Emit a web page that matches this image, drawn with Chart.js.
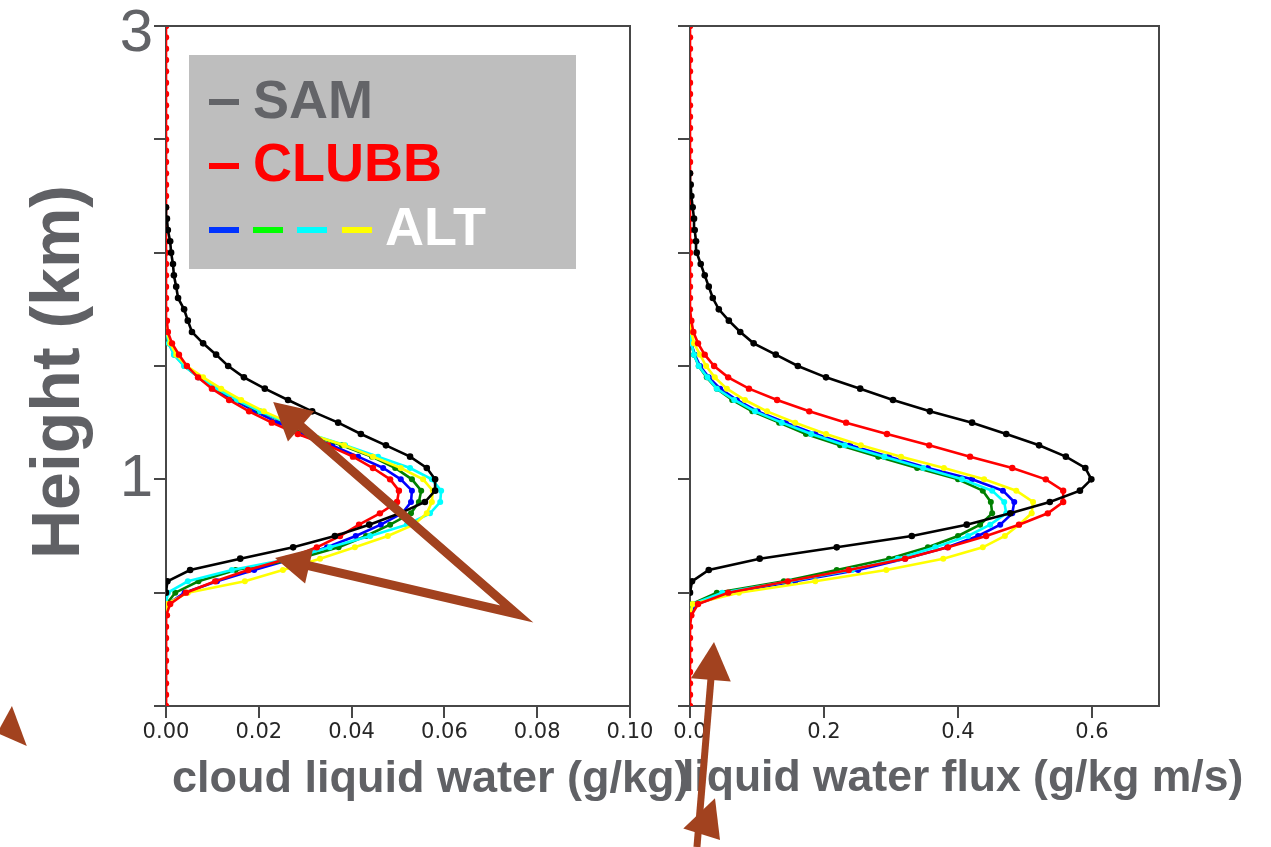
<!DOCTYPE html>
<html>
<head>
<meta charset="utf-8">
<title>Cloud liquid water and liquid water flux profiles</title>
<script src="https://cdn.jsdelivr.net/npm/chart.js@4.4.1/dist/chart.umd.min.js"></script>
<style>
  html, body { margin: 0; padding: 0; background: #ffffff; }
  #stage { position: relative; width: 1271px; height: 847px; overflow: hidden; background: #ffffff; }
  #stage canvas { position: absolute; left: 0; top: 0; width: 1271px; height: 847px; }
  .lbl { position: absolute; white-space: nowrap; font-family: "Liberation Sans", Arial, sans-serif; font-weight: bold; color: #606165; }
  #fluxTitle { left: 682px; top: 754px; font-size: 44.5px; line-height: 44.5px; }
  #cloudTitle { left: 172px; top: 754px; font-size: 45px; line-height: 45px; }
  #heightTitle { left: 55px; top: 372px; font-size: 68px; line-height: 68px; transform: translate(-50%, -50%) rotate(-90deg); }
  #legend { position: absolute; left: 189px; top: 55px; width: 387px; height: 214px; background: #bebebe; }
  #legend .dash { position: absolute; height: 6px; width: 30px; }
  #legend .name { position: absolute; white-space: nowrap; font-family: "Liberation Sans", Arial, sans-serif; font-weight: bold; font-size: 54px; line-height: 54px; }
  #callouts { z-index: 5; }
</style>
</head>
<body>
<div id="stage">
  <canvas id="cloudChart" width="1271" height="847"></canvas>
  <canvas id="fluxChart" width="1271" height="847"></canvas>
  <div class="lbl" id="fluxTitle">liquid water flux (g/kg m/s)</div>
  <div class="lbl" id="cloudTitle">cloud liquid water (g/kg)</div>
  <div class="lbl" id="heightTitle">Height (km)</div>
  <div id="legend">
    <div class="dash" style="left:20px; top:44px; background:#636468;"></div>
    <div class="name" style="left:64px; top:17px; color:#636468;">SAM</div>
    <div class="dash" style="left:20px; top:108px; background:#ff0000;"></div>
    <div class="name" style="left:64px; top:80px; color:#ff0000;">CLUBB</div>
    <div class="dash" style="left:20px; top:172px; background:#0033ff;"></div>
    <div class="dash" style="left:64px; top:172px; background:#00ff00;"></div>
    <div class="dash" style="left:108px; top:172px; background:#00ffff;"></div>
    <div class="dash" style="left:153px; top:172px; background:#ffff00;"></div>
    <div class="name" style="left:196px; top:144px; color:#ffffff;">ALT</div>
  </div>
  <canvas id="callouts" width="1271" height="847"></canvas>
</div>
<script>
// Model levels (km)
const heights = [0.00,0.05,0.10,0.15,0.20,0.25,0.30,0.35,0.40,0.45,
                 0.50,0.55,0.60,0.65,0.70,0.75,0.80,0.85,0.90,0.95,
                 1.00,1.05,1.10,1.15,1.20,1.25,1.30,1.35,1.40,1.45,
                 1.50,1.55,1.60,1.65,1.70,1.75,1.80,1.85,1.90,1.95,
                 2.00,2.05,2.10,2.15,2.20,2.25,2.30,2.35,2.40,2.45,
                 2.50,2.55,2.60,2.65,2.70,2.75,2.80,2.85,2.90,2.95,
                 3.00];
const _ = null; // level not output by that run

// Cloud liquid water (g/kg)
const samCloud = [_,_,_,_,_,_,_,_,_,_,
  0.0000,0.0003,0.0052,0.0160,0.0274,0.0364,0.0438,0.0504,0.0558,0.0580,
  0.0580,0.0562,0.0526,0.0474,0.0420,0.0371,0.0315,0.0263,0.0213,0.0168,
  0.0134,0.0108,0.0080,0.0056,0.0047,0.0039,0.0026,0.0022,0.0017,0.0015,
  0.0011,0.0009,0.0004,0.0002,0.0000,_,_,_,_,_,
  _,_,_,_,_,_,_,_,_,_,
  _];
const clubbCloud = [0,0,0,0,0,0,0,0,0.0002,0.0009,
  0.0043,0.0106,0.0177,0.0261,0.0325,0.0375,0.0416,0.0461,0.0498,0.0502,
  0.0483,0.0446,0.0403,0.0349,0.0284,0.0228,0.0179,0.0136,0.0099,0.0069,
  0.0045,0.0028,0.0013,0.0004,0.0002,0,0,0,0,0,
  0,0,0,0,0,0,0,0,0,0,
  0,0,0,0,0,0,0,0,0,0,
  0];
const altBlueCloud = [_,_,_,_,_,_,_,_,0.0000,0.0004,
  0.0040,0.0110,0.0190,0.0274,0.0347,0.0409,0.0463,0.0509,0.0528,0.0530,
  0.0506,0.0468,0.0414,0.0358,0.0295,0.0241,0.0192,0.0147,0.0103,0.0069,
  0.0043,0.0024,0.0009,0.0002,0.0000,_,_,_,_,_,
  _,_,_,_,_,_,_,_,_,_,
  _,_,_,_,_,_,_,_,_,_,
  _];
const altGreenCloud = [_,_,_,_,_,_,_,_,0.0000,0.0001,
  0.0020,0.0070,0.0150,0.0285,0.0372,0.0431,0.0483,0.0528,0.0545,0.0550,
  0.0530,0.0494,0.0444,0.0379,0.0304,0.0257,0.0201,0.0152,0.0109,0.0071,
  0.0040,0.0018,0.0006,0.0001,0.0000,_,_,_,_,_,
  _,_,_,_,_,_,_,_,_,_,
  _,_,_,_,_,_,_,_,_,_,
  _];
const altCyanCloud = [_,_,_,_,_,_,_,_,_,0.0000,
  0.0004,0.0047,0.0142,0.0267,0.0353,0.0440,0.0519,0.0569,0.0591,0.0593,
  0.0573,0.0526,0.0457,0.0386,0.0310,0.0259,0.0203,0.0153,0.0110,0.0071,
  0.0039,0.0017,0.0006,0.0001,0.0000,_,_,_,_,_,
  _,_,_,_,_,_,_,_,_,_,
  _,_,_,_,_,_,_,_,_,_,
  _];
const altYellowCloud = [_,_,_,_,_,_,_,_,0.0000,0.0002,
  0.0047,0.0170,0.0252,0.0332,0.0407,0.0478,0.0534,0.0562,0.0573,0.0575,
  0.0554,0.0506,0.0446,0.0384,0.0308,0.0265,0.0211,0.0162,0.0119,0.0080,
  0.0045,0.0022,0.0009,0.0002,0.0000,_,_,_,_,_,
  _,_,_,_,_,_,_,_,_,_,
  _,_,_,_,_,_,_,_,_,_,
  _];

// Liquid water flux (g/kg m/s)
const samFlux = [_,_,_,_,_,_,_,_,_,_,
  0.000,0.003,0.028,0.104,0.219,0.331,0.413,0.478,0.537,0.582,
  0.599,0.590,0.561,0.521,0.472,0.421,0.358,0.303,0.254,0.203,
  0.161,0.128,0.095,0.075,0.058,0.043,0.034,0.028,0.022,0.016,
  0.010,0.009,0.007,0.006,0.004,0.002,0.001,0.000,_,_,
  _,_,_,_,_,_,_,_,_,_,
  _];
const clubbFlux = [0,0,0,0,0,0,0,0,0.002,0.012,
  0.057,0.146,0.237,0.321,0.385,0.442,0.491,0.534,0.557,0.557,
  0.531,0.481,0.418,0.357,0.294,0.233,0.178,0.130,0.088,0.057,
  0.036,0.022,0.012,0.005,0.002,0,0,0,0,0,
  0,0,0,0,0,0,0,0,0,0,
  0,0,0,0,0,0,0,0,0,0,
  0];
const altBlueFlux = [_,_,_,_,_,_,_,_,0.000,0.010,
  0.060,0.157,0.251,0.321,0.384,0.430,0.463,0.481,0.484,0.467,
  0.421,0.355,0.297,0.239,0.187,0.143,0.101,0.070,0.045,0.028,
  0.015,0.007,0.002,0.000,_,_,_,_,_,_,
  _,_,_,_,_,_,_,_,_,_,
  _,_,_,_,_,_,_,_,_,_,
  _];
const altGreenFlux = [_,_,_,_,_,_,_,_,0.000,0.003,
  0.040,0.140,0.219,0.297,0.355,0.400,0.433,0.451,0.449,0.437,
  0.400,0.339,0.281,0.224,0.173,0.133,0.093,0.063,0.040,0.025,
  0.013,0.006,0.002,0.000,_,_,_,_,_,_,
  _,_,_,_,_,_,_,_,_,_,
  _,_,_,_,_,_,_,_,_,_,
  _];
const altCyanFlux = [_,_,_,_,_,_,_,_,0.000,0.004,
  0.048,0.149,0.242,0.310,0.366,0.415,0.448,0.472,0.469,0.451,
  0.406,0.348,0.290,0.231,0.181,0.137,0.097,0.066,0.040,0.026,
  0.013,0.006,0.002,0.000,_,_,_,_,_,_,
  _,_,_,_,_,_,_,_,_,_,
  _,_,_,_,_,_,_,_,_,_,
  _];
const altYellowFlux = [_,_,_,_,_,_,_,_,0.000,0.004,
  0.073,0.187,0.293,0.378,0.437,0.470,0.491,0.510,0.512,0.487,
  0.439,0.379,0.315,0.255,0.203,0.157,0.115,0.082,0.055,0.037,
  0.024,0.015,0.006,0.002,0.000,_,_,_,_,_,
  _,_,_,_,_,_,_,_,_,_,
  _,_,_,_,_,_,_,_,_,_,
  _];

// Axis ticks and their labels
const heightTicks = [0, 0.5, 1, 1.5, 2, 2.5, 3];
const heightTickLabels = ['', '', '1', '', '', '', ['', '3']];
const cloudTicks = [0, 0.02, 0.04, 0.06, 0.08, 0.10];
const cloudTickLabels = ['0.00', '0.02', '0.04', '0.06', '0.08', '0.10'];
const fluxTicks = [0, 0.2, 0.4, 0.6];
const fluxTickLabels = ['0.0', '0.2', '0.4', '0.6'];

// Drawing styles, topmost run first
const runs = [
  { key: 'sam',    color: '#000000', radius: 3.3, width: 2.6 },
  { key: 'clubb',  color: '#ff0000', radius: 3.2, width: 2.6 },
  { key: 'yellow', color: '#ffff00', radius: 3.0, width: 2.6 },
  { key: 'cyan',   color: '#00ffff', radius: 3.0, width: 2.6 },
  { key: 'green',  color: '#008000', radius: 3.0, width: 2.6 },
  { key: 'blue',   color: '#0000ff', radius: 3.0, width: 2.6 }
];
const cloudRuns = { sam: samCloud, clubb: clubbCloud, yellow: altYellowCloud, cyan: altCyanCloud, green: altGreenCloud, blue: altBlueCloud };
const fluxRuns  = { sam: samFlux,  clubb: clubbFlux,  yellow: altYellowFlux,  cyan: altCyanFlux,  green: altGreenFlux,  blue: altBlueFlux };

function profile(values) {
  const pts = [];
  values.forEach((v, i) => { if (v !== null) pts.push({ x: v, y: heights[i] }); });
  return pts;
}

function datasetsFor(table) {
  return runs.map(r => ({
    label: r.key,
    data: profile(table[r.key]),
    borderColor: r.color,
    backgroundColor: r.color,
    pointBackgroundColor: r.color,
    pointBorderWidth: 0,
    pointRadius: r.radius,
    borderWidth: r.width,
    tension: 0,
    fill: false
  }));
}

const AXIS = '#474747';

// Top and right edges of the plotting frame
const framePlugin = {
  id: 'frame',
  afterDraw(chart) {
    const { ctx, chartArea: a } = chart;
    ctx.save();
    ctx.strokeStyle = AXIS;
    ctx.lineWidth = 2;
    ctx.beginPath();
    ctx.moveTo(a.left - 1, a.top);
    ctx.lineTo(a.right, a.top);
    ctx.lineTo(a.right, a.bottom + 1);
    ctx.stroke();
    ctx.restore();
  }
};

function panelOptions(cfg) {
  return {
    responsive: false,
    maintainAspectRatio: false,
    devicePixelRatio: 1,
    animation: false,
    events: [],
    layout: { padding: { left: cfg.padLeft, right: cfg.padRight, top: 26, bottom: 0 } },
    plugins: { legend: { display: false }, tooltip: { enabled: false }, title: { display: false } },
    scales: {
      x: {
        type: 'linear',
        position: 'bottom',
        min: cfg.xMin,
        max: cfg.xMax,
        z: 1,
        afterBuildTicks(scale) { scale.ticks = cfg.xTicks.map(v => ({ value: v })); },
        afterFit(scale) { scale.height = 141; },
        grid: { drawOnChartArea: false, drawTicks: true, tickLength: 12, tickColor: AXIS, tickWidth: 2, lineWidth: 2, color: AXIS },
        border: { display: true, color: AXIS, width: 2 },
        ticks: {
          autoSkip: false, maxRotation: 0, minRotation: 0, padding: 2,
          color: '#262626',
          font: { family: '"DejaVu Sans", sans-serif', size: 21 },
          callback: (v, i) => cfg.xLabels[i]
        }
      },
      y: {
        type: 'linear',
        position: 'left',
        min: 0,
        max: 3,
        z: 1,
        afterBuildTicks(scale) { scale.ticks = heightTicks.map(v => ({ value: v })); },
        afterFit(scale) { scale.width = cfg.yWidth; },
        grid: { drawOnChartArea: false, drawTicks: true, tickLength: 12, tickColor: AXIS, tickWidth: 2, lineWidth: 2, color: AXIS },
        border: { display: true, color: AXIS, width: 2 },
        ticks: {
          autoSkip: false, padding: 1,
          color: '#626367',
          font: { family: '"Liberation Sans", Arial, sans-serif', size: 60, lineHeight: '16px' },
          callback: (v, i) => (cfg.yLabels ? cfg.yLabels[i] : '')
        }
      }
    }
  };
}

const cloudChart = new Chart(document.getElementById('cloudChart'), {
  type: 'line',
  data: { datasets: datasetsFor(cloudRuns) },
  options: panelOptions({ padLeft: 0, padRight: 641, yWidth: 166, xMin: 0, xMax: 0.10,
                          xTicks: cloudTicks, xLabels: cloudTickLabels, yLabels: heightTickLabels }),
  plugins: [framePlugin]
});

const fluxChart = new Chart(document.getElementById('fluxChart'), {
  type: 'line',
  data: { datasets: datasetsFor(fluxRuns) },
  options: panelOptions({ padLeft: 640, padRight: 112, yWidth: 50, xMin: 0, xMax: 0.7,
                          xTicks: fluxTicks, xLabels: fluxTickLabels, yLabels: null }),
  plugins: [framePlugin]
});

// Call-out arrows, placed in each panel's data units
const cloudArrowTail = [0.0756, 0.406];
const cloudArrowTips = [[0.0231, 1.341], [0.0235, 0.653]];
const cloudStrayHead = [[-0.0332, 0.000], [-0.0300, -0.176], [-0.0364, -0.119]];
const fluxArrowTail = [0.0104, -0.622];
const fluxArrowTip = [0.0358, 0.282];
const fluxStrayHead = [[0.0373, -0.407], [-0.0100, -0.540], [0.0448, -0.591]];

(function drawCallouts() {
  const ctx = document.getElementById('callouts').getContext('2d');
  const BROWN = '#a2421f';
  const at = (chart, p) => [chart.scales.x.getPixelForValue(p[0]), chart.scales.y.getPixelForValue(p[1])];

  function headBase(tip, tail, len) {
    const dx = tip[0] - tail[0], dy = tip[1] - tail[1];
    const d = Math.hypot(dx, dy);
    const ux = dx / d, uy = dy / d;
    return { base: [tip[0] - ux * len, tip[1] - uy * len], ux, uy };
  }
  function head(tip, tail, len, half) {
    const h = headBase(tip, tail, len);
    const nx = -h.uy, ny = h.ux;
    ctx.beginPath();
    ctx.moveTo(tip[0], tip[1]);
    ctx.lineTo(h.base[0] + nx * half, h.base[1] + ny * half);
    ctx.lineTo(h.base[0] - nx * half, h.base[1] - ny * half);
    ctx.closePath();
    ctx.fill();
  }
  function polygon(pts) {
    ctx.beginPath();
    pts.forEach((p, i) => (i ? ctx.lineTo(p[0], p[1]) : ctx.moveTo(p[0], p[1])));
    ctx.closePath();
    ctx.fill();
  }

  ctx.fillStyle = BROWN;
  ctx.strokeStyle = BROWN;

  // Two arrows from a common tail in the cloud water panel
  const tail = at(cloudChart, cloudArrowTail);
  const tipA = at(cloudChart, cloudArrowTips[0]);
  const tipB = at(cloudChart, cloudArrowTips[1]);
  const bA = headBase(tipA, tail, 34).base;
  const bB = headBase(tipB, tail, 32).base;
  ctx.lineWidth = 9;
  ctx.lineJoin = 'miter';
  ctx.miterLimit = 10;
  ctx.beginPath();
  ctx.moveTo(bA[0], bA[1]);
  ctx.lineTo(tail[0], tail[1]);
  ctx.lineTo(bB[0], bB[1]);
  ctx.stroke();
  head(tipA, tail, 37, 20);
  head(tipB, tail, 35, 18);
  polygon(cloudStrayHead.map(p => at(cloudChart, p)));

  // Arrow rising into the flux panel
  const fTail = at(fluxChart, fluxArrowTail);
  const fTip = at(fluxChart, fluxArrowTip);
  const fb = headBase(fTip, fTail, 34).base;
  ctx.lineWidth = 7;
  ctx.lineCap = 'butt';
  ctx.beginPath();
  ctx.moveTo(fTail[0], fTail[1]);
  ctx.lineTo(fb[0], fb[1]);
  ctx.stroke();
  head(fTip, fTail, 38, 20);
  polygon(fluxStrayHead.map(p => at(fluxChart, p)));
})();
</script>
</body>
</html>
